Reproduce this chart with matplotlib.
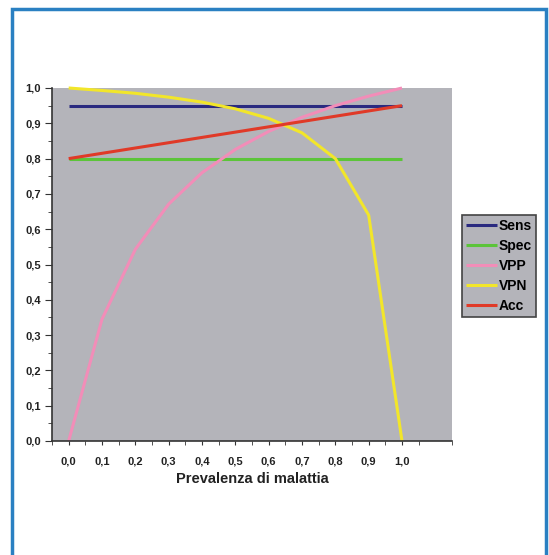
import numpy as np
import matplotlib.pyplot as plt
from matplotlib.patches import Rectangle
from matplotlib.ticker import FuncFormatter

plt.rcParams['font.family'] = ['Liberation Sans', 'DejaVu Sans']

# Prevalenza di malattia (asse x)
prevalenza = [0.0, 0.1, 0.2, 0.3, 0.4, 0.5, 0.6, 0.7, 0.8, 0.9, 1.0]

# Valori
sens = [0.95, 0.95, 0.95, 0.95, 0.95, 0.95, 0.95, 0.95, 0.95, 0.95, 0.95]
spec = [0.80, 0.80, 0.80, 0.80, 0.80, 0.80, 0.80, 0.80, 0.80, 0.80, 0.80]
vpp = [0.0, 0.345, 0.543, 0.671, 0.76, 0.826, 0.877, 0.917, 0.95, 0.977, 1.0]
vpn = [1.0, 0.993, 0.985, 0.974, 0.96, 0.941, 0.914, 0.873, 0.80, 0.64, 0.0]
acc = [0.80, 0.815, 0.83, 0.845, 0.86, 0.875, 0.89, 0.905, 0.92, 0.935, 0.95]

serie = [
    ('Sens', sens, '#2a2a80'),
    ('Spec', spec, '#5cc43a'),
    ('VPP', vpp, '#f28db8'),
    ('VPN', vpn, '#f2e62a'),
    ('Acc', acc, '#e03a28'),
]

fig = plt.figure(figsize=(5.49, 5.55), dpi=100)
fig.patch.set_facecolor('white')

# cornice blu
fig.patches.append(Rectangle((12 / 549, -0.05), (546 - 12) / 549, 1.05 - 9 / 555,
                             transform=fig.transFigure, fill=False,
                             edgecolor='#2a80c2', linewidth=2.5))

ax = fig.add_axes([52 / 549, 1 - 441 / 555, 400 / 549, 353 / 555])
ax.set_facecolor('#b4b4ba')

linee = []
for nome, valori, colore in serie:
    l, = ax.plot(prevalenza, valori, color=colore, lw=2.2, label=nome,
                 solid_capstyle='butt', clip_on=False)
    linee.append(l)

ax.set_xlim(-0.05, 1.15)
ax.set_ylim(0, 1)

virgola = FuncFormatter(lambda v, p: ('%.1f' % v).replace('.', ','))
ax.set_xticks(prevalenza)
ax.set_xticks(np.arange(-0.05, 1.16, 0.1), minor=True)
ax.xaxis.set_major_formatter(virgola)
ax.set_yticks(np.arange(0, 1.01, 0.1))
ax.set_yticks(np.arange(0.05, 1.0, 0.1), minor=True)
ax.yaxis.set_major_formatter(virgola)

for s in ['top', 'right']:
    ax.spines[s].set_visible(False)
for s in ['left', 'bottom']:
    ax.spines[s].set_color('#333333')
    ax.spines[s].set_linewidth(1.2)

ax.tick_params(axis='x', which='both', length=3, color='#333333', pad=8,
               labelsize=8)
ax.tick_params(axis='y', which='major', length=5, color='#333333', pad=3,
               labelsize=8)
ax.tick_params(axis='y', which='minor', length=3, color='#333333')
for t in ax.get_xticklabels() + ax.get_yticklabels():
    t.set_fontweight('bold')
    t.set_color('#222222')

ax.set_xlabel('Prevalenza di malattia', fontsize=10.5, fontweight='bold',
              labelpad=4, color='#222222')

leg = fig.legend(handles=linee, loc='upper left',
                 bbox_to_anchor=(462 / 549, 1 - 215 / 555),
                 prop={'weight': 'bold', 'size': 10},
                 handlelength=2.2, handletextpad=0.15, labelspacing=0.42,
                 borderpad=0.3, borderaxespad=0, fancybox=False, framealpha=1)
leg.get_frame().set_facecolor('#b4b4ba')
leg.get_frame().set_edgecolor('#444444')
leg.get_frame().set_linewidth(1.2)

fig.savefig('out.png', dpi=100)
